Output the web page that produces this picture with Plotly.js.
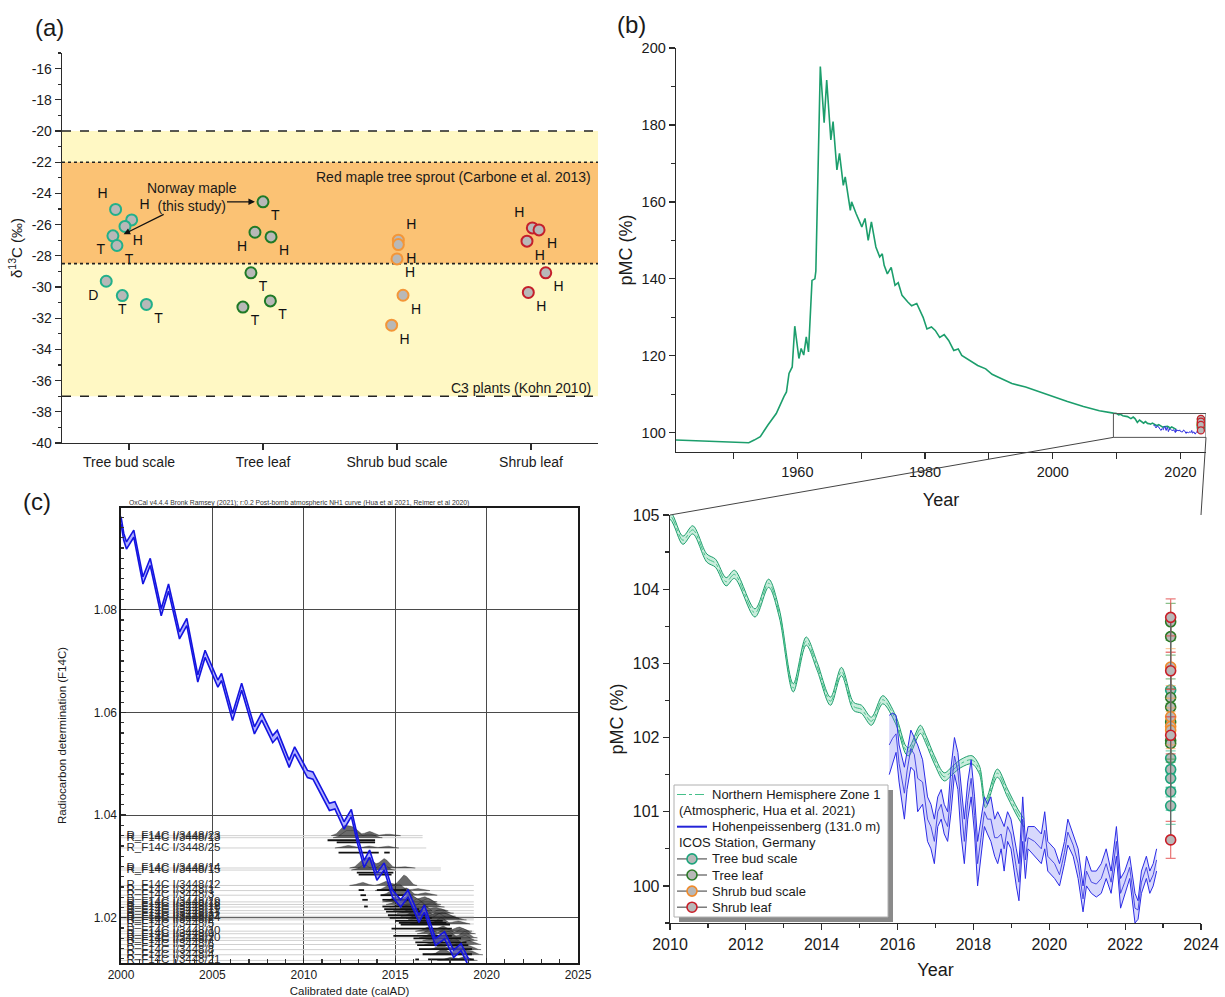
<!DOCTYPE html>
<html><head><meta charset="utf-8">
<script src="https://cdn.plot.ly/plotly-3.0.1.min.js"></script>
<style>html,body{margin:0;padding:0;background:#fff}#chart{width:1225px;height:997px}</style>
</head><body><div id="chart"></div>
<script>
// ================= DATA =================
// ---- Panel (a): δ13C ----
const categories = ['Tree bud scale', 'Tree leaf', 'Shrub bud scale', 'Shrub leaf'];
const aYTicks = [-40, -38, -36, -34, -32, -30, -28, -26, -24, -22, -20, -18, -16];
const treeBudD13C = [-25.03, -25.70, -26.12, -26.72, -27.34, -29.63, -30.55, -31.12];
const treeBudJitter = [-0.10, 0.02, -0.03, -0.12, -0.09, -0.17, -0.05, 0.13];
const treeBudTag = ['H', 'H', 'H', 'T', 'T', 'D', 'T', 'T'];
const treeLeafD13C = [-24.54, -26.49, -26.79, -29.09, -31.29, -30.89];
const treeLeafJitter = [0.00, -0.06, 0.06, -0.09, -0.15, 0.055];
const treeLeafTag = ['T', 'H', 'H', 'T', 'T', 'T'];
const shrubBudD13C = [-27.00, -27.28, -28.20, -30.53, -32.45];
const shrubBudJitter = [0.01, 0.01, 0.00, 0.045, -0.04];
const shrubBudTag = ['H', 'H', 'H', 'H', 'H'];
const shrubLeafD13C = [-26.21, -26.34, -27.06, -29.09, -30.35];
const shrubLeafJitter = [0.01, 0.06, -0.03, 0.11, -0.02];
const shrubLeafTag = ['H', 'H', 'H', 'H', 'H'];
const c3Band = [-37, -20];          // C3 plants (Kohn 2010)
const redMapleBand = [-28.5, -22];  // Red maple tree sprout (Carbone et al. 2013)

// ---- Panel (b): pMC ----
const nh1Year = [1941.0, 1944.8, 1947.9, 1950.4, 1952.4, 1953.25, 1954.2, 1955.4, 1956.7, 1957.9, 1958.3, 1958.7, 1959.2, 1959.6, 1960.25, 1960.6, 1961.0, 1961.4, 1961.75, 1962.3, 1962.75, 1962.9, 1963.3, 1963.6, 1964.2, 1964.6, 1965.25, 1965.6, 1966.2, 1966.6, 1967.2, 1967.5, 1968.3, 1968.5, 1969.2, 1970.1, 1970.6, 1971.1, 1971.6, 1972.3, 1972.9, 1973.3, 1973.6, 1974.1, 1974.7, 1975.3, 1975.8, 1976.4, 1977.3, 1977.9, 1978.7, 1979.7, 1980.3, 1981.0, 1981.6, 1982.3, 1983.0, 1983.7, 1984.5, 1985.2, 1985.75, 1987.0, 1988.25, 1989.5, 1990.5, 1991.4, 1992.5, 1993.6, 1995.75, 1997.9, 2000.1, 2002.3, 2004.8, 2007.3, 2009.5,
  2010.0, 2010.34, 2010.6, 2010.97, 2011.2, 2011.48, 2011.7, 2012.24, 2012.6, 2012.88, 2013.25, 2013.59, 2013.88, 2014.23, 2014.52, 2014.84, 2015.05, 2015.31, 2015.61, 2015.95, 2016.22, 2016.3, 2016.6, 2016.75, 2016.97, 2017.23, 2017.45, 2017.67, 2017.96, 2018.16, 2018.32, 2018.63, 2018.9, 2019.17, 2019.33];
const nh1PMC = [98.1, 97.9, 97.8, 97.5, 97.4, 98.1, 99.0, 102.0, 105.0, 109.4, 110.6, 115.4, 117.1, 127.7, 119.3, 121.9, 120.2, 124.9, 121.0, 139.6, 140.0, 142.0, 170.0, 195.2, 180.6, 191.7, 176.1, 180.9, 168.3, 172.6, 164.3, 166.5, 157.8, 160.0, 157.0, 153.5, 155.7, 150.0, 154.8, 148.3, 145.7, 146.5, 143.5, 141.3, 143.0, 138.3, 139.0, 135.7, 134.0, 133.0, 133.6, 130.0, 127.0, 127.5, 126.6, 124.8, 125.5, 124.0, 121.4, 121.8, 120.1, 118.8, 117.5, 116.6, 115.2, 114.5, 113.6, 112.8, 111.9, 110.6, 109.4, 108.1, 106.8, 105.7, 105.1,
  105.0, 104.66, 104.8, 104.42, 104.35, 104.1, 104.2, 103.68, 104.08, 103.68, 102.67, 103.3, 102.96, 102.49, 102.89, 102.42, 102.38, 102.22, 102.51, 102.24, 101.83, 101.81, 102.11, 101.97, 101.7, 101.47, 101.56, 101.65, 101.7, 101.56, 101.11, 101.52, 101.25, 100.98, 100.85];
const nh1Half = 0.055;
const hpYear = [2015.78, 2015.87, 2015.96, 2016.04, 2016.18, 2016.25, 2016.35, 2016.44, 2016.53, 2016.66, 2016.79, 2016.88, 2016.97, 2017.06, 2017.15, 2017.23, 2017.32, 2017.41, 2017.50, 2017.59, 2017.67, 2017.76, 2017.85, 2017.94, 2018.03, 2018.11, 2018.20, 2018.29, 2018.37, 2018.46, 2018.56, 2018.64, 2018.73, 2018.81, 2018.90, 2018.99, 2019.13, 2019.20, 2019.30, 2019.37, 2019.44, 2019.61, 2019.79, 2019.88, 2019.96, 2020.14, 2020.27, 2020.40, 2020.49, 2020.63, 2020.76, 2020.89, 2020.98, 2021.11, 2021.24, 2021.37, 2021.50, 2021.63, 2021.77, 2021.88, 2021.99, 2022.12, 2022.26, 2022.34, 2022.43, 2022.56, 2022.65, 2022.74, 2022.83];
const hpUpper = [102.3, 102.33, 102.3, 101.9, 101.6, 101.8, 102.1, 102.0, 101.9, 101.7, 101.2, 101.1, 100.9, 101.2, 101.3, 101.1, 101.0, 101.6, 102.0, 101.8, 101.4, 100.9, 101.4, 101.7, 101.2, 100.6, 100.9, 101.2, 101.1, 101.2, 100.9, 101.0, 100.9, 100.8, 101.0, 100.9, 100.5, 100.3, 101.2, 100.6, 100.8, 100.8, 100.7, 101.0, 100.6, 100.5, 100.3, 100.6, 100.9, 100.7, 100.5, 100.0, 100.4, 100.2, 100.2, 100.3, 100.5, 100.2, 100.8, 100.1, 100.2, 100.4, 99.9, 99.8, 100.2, 100.4, 100.2, 100.3, 100.5];
const hpLower = [101.5, 101.65, 101.8, 101.4, 100.9, 101.3, 101.6, 101.55, 101.0, 101.1, 100.6, 100.5, 100.3, 100.8, 100.9, 100.7, 100.6, 101.0, 101.5, 101.3, 100.7, 100.3, 100.9, 101.2, 100.7, 100.0, 100.4, 100.8, 100.7, 100.6, 100.4, 100.3, 100.5, 100.2, 100.6, 100.5, 100.0, 99.8, 100.6, 100.1, 100.5, 100.4, 100.3, 100.5, 100.2, 100.1, 100.0, 100.3, 100.55, 100.4, 100.1, 99.65, 100.0, 99.9, 99.85, 99.9, 100.1, 99.9, 100.4, 99.7, 99.9, 100.1, 99.5, 99.55, 99.9, 100.1, 99.9, 100.0, 100.2];
const sampleYear = 2023.2;
const treeBudPMC = [102.64, 101.72, 101.57, 101.45, 101.27, 101.08];
const treeLeafPMC = [103.56, 103.36, 102.54, 102.41, 102.21, 101.96, 101.92];
const shrubBudPMC = [102.95, 102.28, 102.15, 102.10];
const shrubLeafPMC = [103.62, 102.90, 102.03, 100.62];
const pmcErr = 0.25;
const bTopYearTicks = [1960, 1980, 2000, 2020];
const zoomBox = {x: [2009.5, 2024], y: [98.8, 105]};
const legendLines = [
  ['Northern Hemisphere Zone 1', '(Atmospheric, Hua et al. 2021)'],
  ['Hohenpeissenberg (131.0 m)', 'ICOS Station, Germany'],
  ['Tree bud scale'], ['Tree leaf'], ['Shrub bud scale'], ['Shrub leaf']
];

// ---- Panel (c): OxCal ----
const cCurveYear = [2000.0, 2000.15, 2000.3, 2000.7, 2001.2, 2001.6, 2002.2, 2002.6, 2003.2, 2003.6, 2004.2, 2004.6, 2005.3, 2005.5, 2006.1, 2006.6, 2007.3, 2007.7, 2008.3, 2008.55, 2009.2, 2009.5, 2010.2, 2010.5, 2011.4, 2011.7, 2012.2, 2012.6, 2012.95, 2013.3, 2013.6, 2014.0, 2014.4, 2014.85, 2015.3, 2015.7, 2016.3, 2016.6, 2017.2, 2017.7, 2018.2, 2018.6, 2019.05];
const cCurveF14C = [1.0974, 1.0942, 1.0925, 1.0948, 1.0857, 1.0893, 1.0795, 1.0843, 1.0750, 1.0776, 1.0666, 1.0714, 1.0656, 1.0669, 1.0591, 1.0650, 1.0565, 1.0592, 1.0548, 1.0558, 1.0500, 1.0526, 1.0480, 1.0477, 1.0416, 1.0419, 1.0380, 1.0404, 1.0350, 1.0305, 1.0325, 1.0280, 1.0300, 1.0247, 1.0228, 1.0247, 1.0198, 1.0218, 1.0153, 1.0166, 1.0130, 1.0143, 1.0110];
const cCurveHalf = 0.0007;
const cLabels = ['R_F14C I/3448/23', 'R_F14C I/3448/13', 'R_F14C I/3448/25', 'R_F14C I/3448/14', 'R_F14C I/3448/15', 'R_F14C I/3448/12', 'R_F14C I/3448/1', 'R_F14C I/3448/3', 'R_F14C I/3448/19', 'R_F14C I/3448/16', 'R_F14C I/3448/18', 'R_F14C I/3448/11', 'R_F14C I/3448/17', 'R_F14C I/3448/22', 'R_F14C I/3448/24', 'R_F14C I/3448/2', 'R_F14C I/3448/5', 'R_F14C I/3448/10', 'R_F14C I/3448/9', 'R_F14C I/3448/20', 'R_F14C I/3448/7', 'R_F14C I/3448/6', 'R_F14C I/3448/8', 'R_F14C I/3448/4', 'R_F14C I/3448/21'];
const cF14C = [1.0360, 1.0356, 1.0336, 1.0297, 1.0293, 1.0263, 1.0253, 1.0244, 1.0231, 1.0226, 1.0221, 1.0214, 1.0209, 1.0203, 1.0199, 1.0196, 1.0188, 1.0174, 1.0169, 1.0161, 1.0156, 1.0148, 1.0138, 1.0128, 1.0117];
const cLineEnd = [2016.5, 2016.5, 2016.7, 2017.5, 2017.5, 2019.3, 2019.3, 2019.3, 2019.3, 2019.3, 2019.3, 2019.3, 2019.3, 2019.3, 2019.3, 2019.3, 2019.3, 2019.3, 2019.3, 2019.3, 2019.3, 2019.3, 2019.3, 2019.3, 2019.3];
const cRangeStart = [2011.3, 2011.8, 2011.9, 2012.9, 2013.0, 2014.0, 2014.2, 2014.3, 2014.3, 2014.4, 2014.5, 2014.6, 2014.7, 2015.0, 2015.2, 2015.3, 2014.8, 2014.9, 2016.0, 2016.1, 2016.2, 2016.3, 2016.5, 2016.8, 2017.6];
const cRangeEnd = [2013.9, 2013.9, 2014.1, 2014.9, 2014.8, 2015.6, 2015.5, 2015.8, 2016.0, 2016.3, 2016.5, 2016.8, 2017.0, 2017.6, 2017.8, 2018.0, 2018.1, 2018.1, 2018.6, 2018.9, 2019.0, 2019.2, 2019.2, 2019.3, 2019.3];
const cSmallStart = [null, null, 2014.4, null, null, 2013.0, 2013.1, 2013.2, 2013.3, null, null, null, null, null, null, null, null, null, null, null, null, null, null, 2016.1, null];
const cSmallEnd = [null, null, 2014.7, null, null, 2013.3, 2013.4, 2013.5, 2013.5, null, null, null, null, null, null, null, null, null, null, null, null, null, null, 2016.3, null];
// peaks of each probability distribution: [year, height (x0.001 F14C)]
const cPeaks = [
  [[2012.2, 1.8], [2012.7, 1.5], [2013.6, 0.8], [2014.6, 0.3]],
  [[2012.3, 1.2], [2012.8, 1.2], [2013.6, 0.7]],
  [[2012.4, 0.5], [2013.5, 0.4], [2014.5, 0.4]],
  [[2013.2, 1.2], [2013.6, 1.6], [2014.4, 1.8], [2015.4, 0.3]],
  [[2013.3, 1.0], [2014.3, 1.2]],
  [[2013.2, 0.6], [2014.5, 0.8], [2015.5, 2.0]],
  [[2014.6, 1.0], [2015.2, 1.2], [2016.2, 0.4]],
  [[2014.9, 1.2], [2015.6, 1.4], [2016.6, 0.5]],
  [[2015.0, 1.0], [2015.8, 1.5], [2016.6, 1.0]],
  [[2015.2, 1.0], [2016.0, 1.5], [2016.8, 1.2]],
  [[2015.4, 1.0], [2016.2, 1.6], [2017.0, 0.8]],
  [[2015.6, 1.0], [2016.4, 1.6], [2017.2, 0.6]],
  [[2015.8, 0.8], [2016.6, 1.5], [2017.5, 0.8]],
  [[2016.0, 1.0], [2016.6, 1.4], [2017.6, 0.8]],
  [[2016.3, 1.2], [2017.2, 1.0], [2017.8, 0.9]],
  [[2016.4, 1.0], [2017.4, 1.2], [2018.2, 0.6]],
  [[2016.5, 1.0], [2017.5, 1.2], [2018.4, 0.6]],
  [[2016.8, 0.8], [2017.6, 1.0], [2018.5, 0.8]],
  [[2016.9, 0.8], [2017.8, 1.0], [2018.7, 1.0]],
  [[2017.0, 1.0], [2017.9, 1.2], [2018.8, 1.2]],
  [[2017.2, 0.8], [2018.0, 1.0], [2018.8, 1.0]],
  [[2017.3, 1.0], [2018.2, 1.2], [2019.0, 0.8]],
  [[2017.5, 1.0], [2018.4, 1.2], [2019.0, 0.8]],
  [[2017.6, 1.2], [2018.5, 1.4], [2019.1, 0.8]],
  [[2018.0, 0.6], [2018.8, 0.8]]
];

// ================= RENDERING =================
const FONT = 'Arial, "Liberation Sans", Helvetica, sans-serif';
const W = 1225, H = 997;
const PX = p => p / W, PY = p => 1 - p / H;
const box = {
  a:  {x: [62, 598],  y: [53, 443]},
  bt: {x: [676, 1206], y: [48, 452]},
  bb: {x: [670, 1201], y: [515, 923]},
  c:  {x: [121, 578], y: [508, 963]}
};
const xd = b => [PX(b.x[0]), PX(b.x[1])];
const yd = b => [PY(b.y[1]), PY(b.y[0])];
const ranges = {
  ax: [0.5, 4.5], ay: [-40, -15],
  btx: [1941, 2024], bty: [95, 200],
  bbx: [2010, 2024], bby: [99.5, 105],
  cx: [2000, 2025], cy: [1.0112, 1.0998]
};

const traces = [];

// ---- (a) ----
const aSeries = [
  {vals: treeBudD13C, jit: treeBudJitter, tag: treeBudTag, cat: 1, edge: '#22b08a',
   pos: ['top left', 'top right', 'bottom right', 'bottom left', 'bottom right', 'bottom left', 'bottom center', 'bottom right']},
  {vals: treeLeafD13C, jit: treeLeafJitter, tag: treeLeafTag, cat: 2, edge: '#1f7a26',
   pos: ['bottom right', 'bottom left', 'bottom right', 'bottom right', 'bottom right', 'bottom right']},
  {vals: shrubBudD13C, jit: shrubBudJitter, tag: shrubBudTag, cat: 3, edge: '#f39638',
   pos: ['top right', 'bottom right', 'bottom right', 'bottom right', 'bottom right']},
  {vals: shrubLeafD13C, jit: shrubLeafJitter, tag: shrubLeafTag, cat: 4, edge: '#c41f2b',
   pos: ['top left', 'bottom right', 'bottom right', 'bottom right', 'bottom right']}
];
aSeries.forEach(s => {
  traces.push({
    type: 'scatter', mode: 'markers+text', xaxis: 'x', yaxis: 'y', showlegend: false,
    x: s.vals.map((v, i) => s.cat + s.jit[i]), y: s.vals,
    text: s.tag, textposition: s.pos,
    textfont: {family: FONT, size: 14, color: '#111'},
    marker: {size: 11, color: '#b8b8b8', line: {color: s.edge, width: 2}},
    cliponaxis: false, hoverinfo: 'skip'
  });
});

// ---- (b) top ----
traces.push({type: 'scatter', mode: 'lines', xaxis: 'x2', yaxis: 'y2', showlegend: false,
  x: nh1Year, y: nh1PMC, line: {color: '#1c9e6c', width: 1.6}, hoverinfo: 'skip'});
traces.push({type: 'scatter', mode: 'lines', xaxis: 'x2', yaxis: 'y2', showlegend: false,
  x: hpYear, y: hpUpper.map((u, i) => (u + hpLower[i]) / 2), line: {color: '#2a2ae0', width: 1}, hoverinfo: 'skip'});

const bSeries = [
  {name: 'Tree bud scale', vals: treeBudPMC, edge: '#1ea47c', err: 'rgba(40,185,135,0.6)'},
  {name: 'Tree leaf', vals: treeLeafPMC, edge: '#2a7a26', err: 'rgba(60,150,60,0.6)'},
  {name: 'Shrub bud scale', vals: shrubBudPMC, edge: '#f08a2a', err: 'rgba(250,165,90,0.6)'},
  {name: 'Shrub leaf', vals: shrubLeafPMC, edge: '#c81e28', err: 'rgba(225,70,70,0.7)'}
];
bSeries.forEach(s => {
  traces.push({type: 'scatter', mode: 'markers', xaxis: 'x2', yaxis: 'y2', showlegend: false,
    x: s.vals.map(() => sampleYear), y: s.vals,
    marker: {size: 7, color: '#b8b8b8', line: {color: s.edge, width: 1.3}}, cliponaxis: false, hoverinfo: 'skip'});
});

// ---- (b) bottom ----
const NH1C = '#1c9e6c', HPC = '#2b2be6';
traces.push({type: 'scatter', mode: 'lines', xaxis: 'x3', yaxis: 'y3', showlegend: false,
  x: nh1Year, y: nh1PMC.map(v => v - nh1Half), line: {color: NH1C, width: 1, shape: 'spline', smoothing: 0.9}, hoverinfo: 'skip'});
traces.push({type: 'scatter', mode: 'lines', xaxis: 'x3', yaxis: 'y3', showlegend: false,
  x: nh1Year, y: nh1PMC.map(v => v + nh1Half), line: {color: NH1C, width: 1, shape: 'spline', smoothing: 0.9},
  fill: 'tonexty', fillcolor: 'rgba(60,190,130,0.28)', hoverinfo: 'skip'});
traces.push({type: 'scatter', mode: 'lines', xaxis: 'x3', yaxis: 'y3', showlegend: false,
  x: nh1Year, y: nh1PMC, line: {color: '#46c08a', width: 1, dash: 'dashdot', shape: 'spline', smoothing: 0.9}, hoverinfo: 'skip'});
traces.push({type: 'scatter', mode: 'lines', xaxis: 'x3', yaxis: 'y3', showlegend: false,
  x: hpYear, y: hpLower, line: {color: HPC, width: 1}, hoverinfo: 'skip'});
traces.push({type: 'scatter', mode: 'lines', xaxis: 'x3', yaxis: 'y3', showlegend: false,
  x: hpYear, y: hpUpper, line: {color: HPC, width: 1},
  fill: 'tonexty', fillcolor: 'rgba(110,115,245,0.28)', hoverinfo: 'skip'});
traces.push({type: 'scatter', mode: 'lines', xaxis: 'x3', yaxis: 'y3', showlegend: false,
  x: hpYear, y: hpUpper.map((u, i) => (u + hpLower[i]) / 2), line: {color: '#3a3ae0', width: 0.9}, hoverinfo: 'skip'});
bSeries.forEach(s => {
  traces.push({type: 'scatter', mode: 'lines+markers', xaxis: 'x3', yaxis: 'y3', showlegend: false, name: s.name,
    x: s.vals.map(() => sampleYear), y: s.vals,
    line: {color: '#666', width: 1.3},
    marker: {size: 10, color: '#b8b8b8', line: {color: s.edge, width: 1.6}},
    error_y: {type: 'constant', value: pmcErr, color: s.err, thickness: 1.3, width: 5},
    cliponaxis: false, hoverinfo: 'skip'});
});

// ---- (c) ----
const gx = [], gy = [];
cF14C.forEach((y, i) => { gx.push(2000, cLineEnd[i], null); gy.push(y, y, null); });
traces.push({type: 'scatter', mode: 'lines', xaxis: 'x4', yaxis: 'y4', showlegend: false,
  x: gx, y: gy, line: {color: '#d0d0d0', width: 1}, hoverinfo: 'skip'});
const mx = [], my = [];
const sig = 0.24;
cF14C.forEach((y0, i) => {
  const pk = cPeaks[i];
  const lo = Math.min(...pk.map(p => p[0])) - 0.7, hi = Math.max(...pk.map(p => p[0])) + 0.7;
  mx.push(lo); my.push(y0);
  for (let t = lo; t <= hi + 1e-9; t += 0.04) {
    let h = 0;
    pk.forEach(p => { h += p[1] * Math.exp(-0.5 * Math.pow((t - p[0]) / sig, 2)); });
    mx.push(t); my.push(y0 + h / 1000);
  }
  mx.push(hi, lo, null); my.push(y0, y0, null);
});
traces.push({type: 'scatter', mode: 'lines', xaxis: 'x4', yaxis: 'y4', showlegend: false,
  x: mx, y: my, fill: 'toself', fillcolor: 'rgba(15,15,15,0.62)', line: {color: 'rgba(15,15,15,0.6)', width: 0.5}, hoverinfo: 'skip'});
const barOff = 0.0009;
const bx = [], by = [];
cF14C.forEach((y, i) => {
  bx.push(cRangeStart[i], cRangeEnd[i], null); by.push(y - barOff, y - barOff, null);
  if (cSmallStart[i] !== null) { bx.push(cSmallStart[i], cSmallEnd[i], null); by.push(y - barOff, y - barOff, null); }
});
traces.push({type: 'scatter', mode: 'lines', xaxis: 'x4', yaxis: 'y4', showlegend: false,
  x: bx, y: by, line: {color: '#111', width: 1.8}, hoverinfo: 'skip'});
traces.push({type: 'scatter', mode: 'text', xaxis: 'x4', yaxis: 'y4', showlegend: false,
  x: cLabels.map(() => 2000.3), y: cF14C, text: cLabels, textposition: 'middle right',
  textfont: {family: FONT, size: 11.5, color: '#2a2a2a'}, hoverinfo: 'skip'});
traces.push({type: 'scatter', mode: 'lines', xaxis: 'x4', yaxis: 'y4', showlegend: false,
  x: cCurveYear, y: cCurveF14C.map(v => v - cCurveHalf), line: {color: '#1414e0', width: 1.6}, hoverinfo: 'skip'});
traces.push({type: 'scatter', mode: 'lines', xaxis: 'x4', yaxis: 'y4', showlegend: false,
  x: cCurveYear, y: cCurveF14C.map(v => v + cCurveHalf), line: {color: '#1414e0', width: 1.6},
  fill: 'tonexty', fillcolor: 'rgba(100,100,255,0.5)', hoverinfo: 'skip'});

// ================= LAYOUT =================
const LC = '#2b2b2b';
const base = {showgrid: false, zeroline: false, showline: true, linecolor: LC, linewidth: 1.3,
  tickcolor: LC, tickwidth: 1.2, ticks: 'outside', ticklen: 6, automargin: false,
  tickfont: {family: FONT, size: 14, color: '#1a1a1a'}};
const mir = (o) => Object.assign({}, base, {showticklabels: false, ticks: 'inside'}, o);

const layout = {
  width: W, height: H, margin: {l: 0, r: 0, t: 0, b: 0},
  paper_bgcolor: '#fff', plot_bgcolor: 'rgba(0,0,0,0)',
  font: {family: FONT, color: '#1a1a1a'}, showlegend: false,
  xaxis: Object.assign({}, base, {domain: xd(box.a), anchor: 'y', range: ranges.ax,
    tickmode: 'array', tickvals: [1, 2, 3, 4], ticktext: categories}),
  yaxis: Object.assign({}, base, {domain: yd(box.a), anchor: 'x', range: ranges.ay,
    tickmode: 'array', tickvals: aYTicks, ticktext: aYTicks.map(String),
    minor: {tickmode: 'linear', dtick: 1, tick0: -40, ticks: 'outside', ticklen: 3, tickcolor: LC},
    title: {text: 'δ<sup>13</sup>C (‰)', font: {family: FONT, size: 15}, standoff: 5}}),
  xaxis5: mir({overlaying: 'x', side: 'top', anchor: 'y', range: ranges.ax, tickmode: 'array', tickvals: [1, 2, 3, 4]}),
  yaxis5: mir({overlaying: 'y', side: 'right', anchor: 'x', range: ranges.ay, tickmode: 'array', tickvals: aYTicks,
    minor: {tickmode: 'linear', dtick: 1, tick0: -40, ticks: 'inside', ticklen: 3, tickcolor: LC}}),
  xaxis2: Object.assign({}, base, {domain: xd(box.bt), anchor: 'y2', range: ranges.btx,
    tickmode: 'array', tickvals: bTopYearTicks, tickfont: {family: FONT, size: 14.5},
    minor: {tickmode: 'linear', dtick: 10, tick0: 1950, ticks: 'outside', ticklen: 6, tickcolor: LC},
    title: {text: 'Year', font: {family: FONT, size: 18}, standoff: 14}}),
  yaxis2: Object.assign({}, base, {domain: yd(box.bt), anchor: 'x2', range: ranges.bty,
    dtick: 20, tick0: 100, tickfont: {family: FONT, size: 14.5},
    minor: {tickmode: 'linear', dtick: 10, tick0: 100, ticks: 'outside', ticklen: 4, tickcolor: LC},
    title: {text: 'pMC (%)', font: {family: FONT, size: 18}, standoff: 4}}),
  xaxis6: mir({overlaying: 'x2', side: 'top', anchor: 'y2', range: ranges.btx, dtick: 10, tick0: 1950}),
  yaxis6: mir({overlaying: 'y2', side: 'right', anchor: 'x2', range: ranges.bty, dtick: 20, tick0: 100,
    minor: {tickmode: 'linear', dtick: 10, tick0: 100, ticks: 'inside', ticklen: 5, tickcolor: LC}}),
  xaxis3: Object.assign({}, base, {domain: xd(box.bb), anchor: 'y3', range: ranges.bbx,
    dtick: 2, tick0: 2010, tickfont: {family: FONT, size: 16},
    minor: {tickmode: 'linear', dtick: 1, tick0: 2010, ticks: 'outside', ticklen: 4, tickcolor: LC},
    title: {text: 'Year', font: {family: FONT, size: 18}, standoff: 12}}),
  yaxis3: Object.assign({}, base, {domain: yd(box.bb), anchor: 'x3', range: ranges.bby,
    dtick: 1, tick0: 100, tickfont: {family: FONT, size: 16},
    minor: {tickmode: 'linear', dtick: 0.5, tick0: 100, ticks: 'outside', ticklen: 4, tickcolor: LC},
    title: {text: 'pMC (%)', font: {family: FONT, size: 18}, standoff: 4}}),
  xaxis7: mir({overlaying: 'x3', side: 'top', anchor: 'y3', range: ranges.bbx, dtick: 1, tick0: 2010}),
  yaxis7: mir({overlaying: 'y3', side: 'right', anchor: 'x3', range: ranges.bby, dtick: 0.5, tick0: 100}),
  xaxis4: Object.assign({}, base, {domain: xd(box.c), anchor: 'y4', range: ranges.cx,
    dtick: 5, tick0: 2000, ticks: 'inside', ticklen: 5, linewidth: 1.6, linecolor: '#1a1a1a', mirror: true,
    showgrid: true, gridcolor: '#4a4a4a', gridwidth: 1, tickfont: {family: FONT, size: 12},
    minor: {tickmode: 'linear', dtick: 1, tick0: 2000, ticks: 'inside', ticklen: 4, tickcolor: '#333', showgrid: false},
    title: {text: 'Calibrated date (calAD)', font: {family: FONT, size: 11.5}, standoff: 12}}),
  yaxis4: Object.assign({}, base, {domain: yd(box.c), anchor: 'x4', range: ranges.cy,
    dtick: 0.02, tick0: 1.0, tickformat: '.2f', ticks: 'inside', ticklen: 5, linewidth: 1.6, linecolor: '#1a1a1a', mirror: true,
    showgrid: true, gridcolor: '#4a4a4a', gridwidth: 1, tickfont: {family: FONT, size: 12},
    minor: {tickmode: 'linear', dtick: 0.002, tick0: 1.0, ticks: 'inside', ticklen: 3, tickcolor: '#333', showgrid: false},
    title: {text: 'Radiocarbon determination (F14C)', font: {family: FONT, size: 11.5}, standoff: 24}}),
  shapes: [], annotations: []
};
const shp = layout.shapes, ann = layout.annotations;

// (a) bands
shp.push({type: 'rect', xref: 'x', yref: 'y', x0: 0.5, x1: 4.5, y0: c3Band[0], y1: c3Band[1],
  fillcolor: '#fff8c4', line: {width: 0}, layer: 'below'});
shp.push({type: 'rect', xref: 'x', yref: 'y', x0: 0.5, x1: 4.5, y0: redMapleBand[0], y1: redMapleBand[1],
  fillcolor: '#fbc274', line: {width: 0}, layer: 'below'});
c3Band.forEach(v => shp.push({type: 'line', xref: 'x', yref: 'y', x0: 0.5, x1: 4.5, y0: v, y1: v,
  line: {color: '#222', width: 1.4, dash: 'dash'}, layer: 'below'}));
redMapleBand.forEach(v => shp.push({type: 'line', xref: 'x', yref: 'y', x0: 0.5, x1: 4.5, y0: v, y1: v,
  line: {color: '#222', width: 1.6, dash: 'dot'}, layer: 'below'}));

// (b) zoom box and connectors
shp.push({type: 'rect', xref: 'x2', yref: 'y2', x0: zoomBox.x[0], x1: zoomBox.x[1], y0: zoomBox.y[0], y1: zoomBox.y[1],
  line: {color: '#555', width: 1}, fillcolor: 'rgba(0,0,0,0)'});
const mapX = (v, r, b) => b.x[0] + (v - r[0]) / (r[1] - r[0]) * (b.x[1] - b.x[0]);
const mapY = (v, r, b) => b.y[1] - (v - r[0]) / (r[1] - r[0]) * (b.y[1] - b.y[0]);
[[zoomBox.x[0], ranges.bbx[0]], [zoomBox.x[1], ranges.bbx[1]]].forEach(c => {
  shp.push({type: 'line', xref: 'paper', yref: 'paper',
    x0: PX(mapX(c[0], ranges.btx, box.bt)), y0: PY(mapY(zoomBox.y[0], ranges.bty, box.bt)),
    x1: PX(mapX(c[1], ranges.bbx, box.bb)), y1: PY(box.bb.y[0]),
    line: {color: '#444', width: 1}});
});

// (b) legend (drawn with shapes/annotations to match the reference row spacing)
const lg = {l: 674, t: 785, r: 888, b: 917, row: 16.1, symL: 677, symR: 707, txt: 710};
shp.push({type: 'rect', xref: 'paper', yref: 'paper', x0: PX(lg.l + 5), x1: PX(lg.r + 5), y0: PY(lg.b + 5), y1: PY(lg.t + 5),
  fillcolor: '#8a8a8a', line: {width: 0}, layer: 'above'});
shp.push({type: 'rect', xref: 'paper', yref: 'paper', x0: PX(lg.l), x1: PX(lg.r), y0: PY(lg.b), y1: PY(lg.t),
  fillcolor: '#ffffff', line: {color: '#b0b0b0', width: 1}, layer: 'above'});
let row = 0;
const rowY = r => lg.t + 9.5 + r * lg.row;
const legendSym = [
  {type: 'line', color: '#46c08a', dash: 'dashdot', width: 1.2},
  {type: 'line', color: '#2424d8', dash: 'solid', width: 2},
  {type: 'marker', edge: bSeries[0].edge}, {type: 'marker', edge: bSeries[1].edge},
  {type: 'marker', edge: bSeries[2].edge}, {type: 'marker', edge: bSeries[3].edge}
];
legendLines.forEach((lines, k) => {
  const y = rowY(row), sym = legendSym[k];
  if (sym.type === 'line') {
    shp.push({type: 'line', xref: 'paper', yref: 'paper', x0: PX(lg.symL), x1: PX(lg.symR), y0: PY(y), y1: PY(y),
      line: {color: sym.color, width: sym.width, dash: sym.dash}, layer: 'above'});
  } else {
    shp.push({type: 'line', xref: 'paper', yref: 'paper', x0: PX(lg.symL), x1: PX(lg.symR), y0: PY(y), y1: PY(y),
      line: {color: '#666', width: 1.3}, layer: 'above'});
    const cx = (lg.symL + lg.symR) / 2, r = 5;
    shp.push({type: 'circle', xref: 'paper', yref: 'paper', x0: PX(cx - r), x1: PX(cx + r), y0: PY(y + r), y1: PY(y - r),
      fillcolor: '#b8b8b8', line: {color: sym.edge, width: 1.6}, layer: 'above'});
  }
  lines.forEach((t, j) => {
    ann.push({xref: 'paper', yref: 'paper', x: PX(j === 0 ? lg.txt : lg.symL), y: PY(rowY(row)), xanchor: 'left', yanchor: 'middle',
      text: t, showarrow: false, font: {family: FONT, size: 13, color: '#1a1a1a'}});
    row++;
  });
});

// annotations
ann.push({xref: 'paper', yref: 'paper', x: PX(49), y: PY(27), xanchor: 'center', yanchor: 'middle', text: '(a)', showarrow: false, font: {family: FONT, size: 24}});
ann.push({xref: 'paper', yref: 'paper', x: PX(631), y: PY(24), xanchor: 'center', yanchor: 'middle', text: '(b)', showarrow: false, font: {family: FONT, size: 24}});
ann.push({xref: 'paper', yref: 'paper', x: PX(37), y: PY(502), xanchor: 'center', yanchor: 'middle', text: '(c)', showarrow: false, font: {family: FONT, size: 24}});
ann.push({xref: 'x', yref: 'y', x: 4.46, y: -22.95, xanchor: 'right', text: 'Red maple tree sprout (Carbone et al. 2013)',
  showarrow: false, font: {family: FONT, size: 14}});
ann.push({xref: 'x', yref: 'y', x: 4.46, y: -36.45, xanchor: 'right', text: 'C3 plants (Kohn 2010)',
  showarrow: false, font: {family: FONT, size: 14}});
ann.push({xref: 'x', yref: 'y', x: 1.47, y: -24.2, xanchor: 'center', text: 'Norway maple<br>(this study)', showarrow: false,
  font: {family: FONT, size: 14}, align: 'center'});
ann.push({xref: 'x', yref: 'y', axref: 'x', ayref: 'y', x: 1.94, y: -24.54, ax: 1.72, ay: -24.54, text: '',
  showarrow: true, arrowhead: 2, arrowsize: 1, arrowwidth: 1.3, arrowcolor: '#111'});
ann.push({xref: 'x', yref: 'y', axref: 'x', ayref: 'y', x: 0.96, y: -26.62, ax: 1.27, ay: -25.3, text: '',
  showarrow: true, arrowhead: 2, arrowsize: 1, arrowwidth: 1.3, arrowcolor: '#111'});
ann.push({xref: 'paper', yref: 'paper', x: PX(299), y: PY(503), xanchor: 'center', yanchor: 'middle',
  text: 'OxCal v4.4.4 Bronk Ramsey (2021); r:0.2 Post-bomb atmospheric NH1 curve (Hua et al 2021, Reimer et al 2020)',
  showarrow: false, font: {family: FONT, size: 6.8, color: '#333'}});

Plotly.newPlot('chart', traces, layout, {staticPlot: true, displayModeBar: false});
</script>
</body></html>
